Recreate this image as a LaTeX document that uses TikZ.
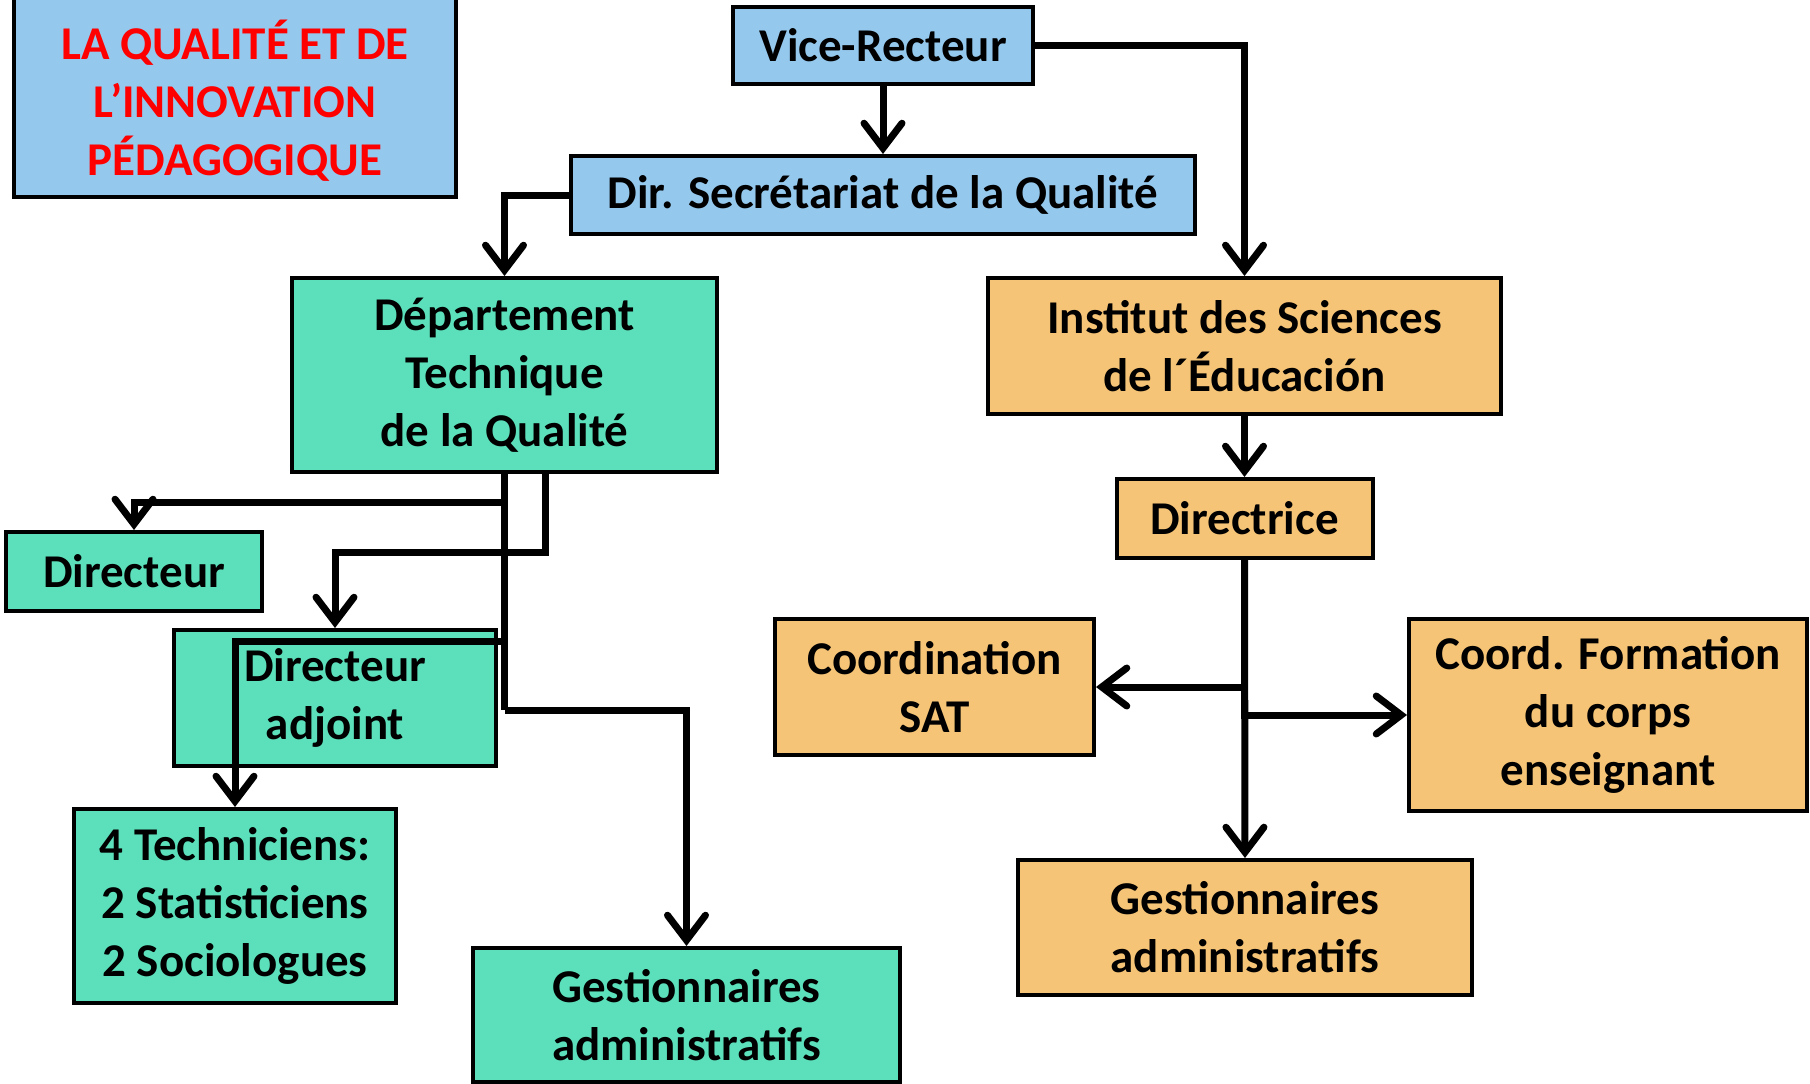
\documentclass[tikz,border=0pt]{standalone}
\usepackage{fontspec}
\setmainfont{Carlito}
\usetikzlibrary{arrows.meta}
\definecolor{boxblue}{RGB}{149,200,237}
\definecolor{boxgreen}{RGB}{92,224,187}
\definecolor{boxorange}{RGB}{246,196,118}
\tikzset{
	unit/.style = {draw=black, line width=4pt, align=center, inner sep=0pt, text centered, font=\fontsize{47}{58}\selectfont\bfseries},
	blueunit/.style = {unit, fill=boxblue},
	greenunit/.style = {unit, fill=boxgreen},
	orangeunit/.style = {unit, fill=boxorange},
	conn/.style = {draw=black, line width=7pt, -{Straight Barb[length=25pt, width=38pt, line cap=round]}},
	link/.style = {draw=black, line width=7pt}
}

\begin{document}
\begin{tikzpicture}[x=1pt, y=-1pt]
\useasboundingbox (0,0) rectangle (1810,1084);
\clip (0,0) rectangle (1810,1084);

\node [blueunit, anchor=south, minimum width=442pt, minimum height=320pt] (title) at (235,199) {};
\node [unit, draw=none, text=red] (titletext) at (235,101) {LA QUALITÉ ET DE\\L’INNOVATION\\PÉDAGOGIQUE};

\node [blueunit, minimum width=300pt, minimum height=77pt] (vr) at (883,45.5) {Vice-Recteur};
\node [blueunit, minimum width=624pt, minimum height=78pt] (dsq) at (883,195) {Dir. Secrétariat de la Qualité};

\node [greenunit, minimum width=425pt, minimum height=194pt] (dtq) at (504.5,375) {Département\\Technique\\de la Qualité};
\node [greenunit, minimum width=256pt, minimum height=79pt] (dir) at (134,571.5) {Directeur};
\node [greenunit, minimum width=322pt, minimum height=136pt] (dira) at (335,698) {Directeur\\adjoint};
\node [greenunit, minimum width=322pt, minimum height=194pt] (tech) at (235,906) {4 Techniciens:\\2 Statisticiens\\2 Sociologues};
\node [greenunit, minimum width=427pt, minimum height=134pt] (gal) at (686.5,1015) {Gestionnaires\\administratifs};

\node [orangeunit, minimum width=513pt, minimum height=136pt] (ise) at (1244.5,346) {Institut des Sciences\\de l´Éducación};
\node [orangeunit, minimum width=256pt, minimum height=79pt] (dice) at (1244.5,518.5) {Directrice};
\node [orangeunit, minimum width=319pt, minimum height=136pt] (sat) at (934.5,687) {Coordination\\SAT};
\node [orangeunit, minimum width=398pt, minimum height=192pt] (cfc) at (1608,715) {Coord. Formation\\du corps\\enseignant};
\node [orangeunit, minimum width=454pt, minimum height=135pt] (gar) at (1245,927.5) {Gestionnaires\\administratifs};

\coordinate (j1) at (504.5,502);
\coordinate (j2) at (504.5,641);
\coordinate (j3) at (504.5,710);
\coordinate (k0) at (545,472);
\coordinate (k1) at (545,552);

\draw [conn] (vr) -- (dsq);
\draw [conn] (vr.east) -| (ise.north);
\draw [conn] (dsq.west) -| (dtq.north);
\draw [conn] (ise) -- (dice);
\draw [conn] (dice.south) -- (gar.north);
\draw [conn] (dice.south) |- (sat.east);
\draw [conn] (dice.south) |- (cfc.west);

\draw [link] (dtq.south) -- (j3);
\draw [conn] (j1) -| (dir.north);
\draw [conn] (k0) -- (k1) -| (dira.north);
\draw [conn] (j2) -| (tech.north);
\draw [conn] (j3) -| (gal.north);
\end{tikzpicture}
\end{document}
